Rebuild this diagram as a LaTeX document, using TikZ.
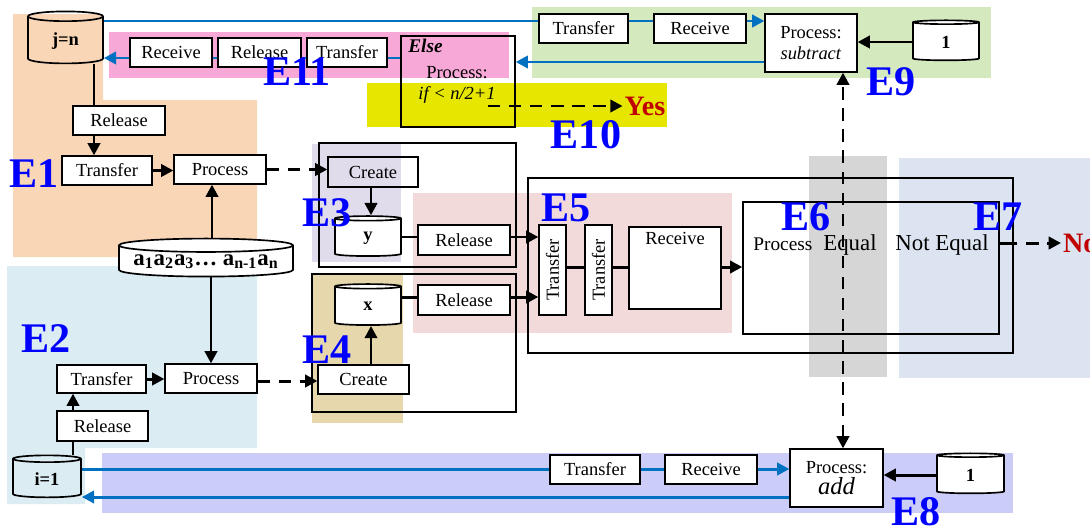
\documentclass[tikz,border=0pt]{standalone}
\usepackage{fontspec}
\setmainfont{Liberation Serif}
\usetikzlibrary{shapes.geometric,arrows.meta}

\definecolor{bgEone}{RGB}{249,214,182}
\definecolor{bgEtwo}{RGB}{219,236,242}
\definecolor{bgEthree}{RGB}{225,220,235}
\definecolor{bgEfour}{RGB}{230,215,172}
\definecolor{bgEfive}{RGB}{242,218,218}
\definecolor{bgEsix}{RGB}{214,214,214}
\definecolor{bgEseven}{RGB}{219,228,240}
\definecolor{bgEeight}{RGB}{204,204,248}
\definecolor{bgEnine}{RGB}{212,234,190}
\definecolor{bgEten}{RGB}{230,230,0}
\definecolor{bgEeleven}{RGB}{248,168,214}
\definecolor{lineblue}{RGB}{0,112,192}
\definecolor{eblue}{RGB}{0,0,255}
\definecolor{ansred}{RGB}{192,0,0}

\begin{document}
\begin{tikzpicture}[x=0.02cm,y=-0.02cm, >={Triangle[length=7pt,width=7pt]},
  blk/.style={draw, fill=white, inner sep=0pt, line width=0.7pt, font=\fontsize{10.5}{12}\selectfont},
  drum/.style={cylinder, shape border rotate=90, draw, fill=white, line width=0.95pt, inner sep=1pt, font=\bfseries\fontsize{10.5}{12}\selectfont},
  frm/.style={draw, line width=1.1pt, inner sep=0pt},
  con/.style={line width=1.7pt},
  arr/.style={con, ->},
  dsh/.style={arr, dash pattern=on 7pt off 5pt},
  bl/.style={line width=1.7pt, draw=lineblue},
  blarr/.style={bl, ->},
  elab/.style={text=eblue, font=\bfseries\fontsize{24}{24}\selectfont, inner sep=0pt},
  ans/.style={text=ansred, font=\bfseries\fontsize{16}{16}\selectfont, inner sep=1pt}]

\useasboundingbox (0,0) rectangle (1090,525);

% shaded groups
\fill[bgEone] (13,14) -- (103,14) -- (103,100) -- (257,100) -- (257,257) -- (13,257) -- cycle;
\fill[bgEtwo] (7,266) -- (257,266) -- (257,448) -- (85,448) -- (85,504) -- (7,504) -- cycle;
\fill[bgEthree] (312,144) rectangle (401,262);
\fill[bgEfour] (312,273) rectangle (403,423);
\fill[bgEfive] (413,193) rectangle (732,333);
\fill[bgEsix] (809,156) rectangle (887,377);
\fill[bgEseven] (899,158) rectangle (1090,378);
\fill[bgEeight] (102,453) rectangle (1013,513);
\fill[bgEnine] (532,7) rectangle (991,78);
\fill[bgEten] (367,83) rectangle (667,127);
\fill[bgEeleven] (109,32) rectangle (509,78);

% frames
\node[frm, minimum width=9.7cm, minimum height=3.5cm] (outer) at (770.5,265.5) {};
\node[frm, minimum width=3.94cm, minimum height=2.48cm] (frmY) at (417.5,205) {};
\node[frm, minimum width=4.08cm, minimum height=2.76cm] (frmX) at (414,343) {};
\node[frm, line width=0.8pt, minimum width=5.12cm, minimum height=2.64cm] (cmp) at (871,268) {};
\node[frm, line width=0.8pt, minimum width=2.28cm, minimum height=1.82cm] (elseP) at (458,81.5) {};

% E11 and E9
\node[blk, minimum width=1.64cm, minimum height=0.58cm] (rcvE) at (171,52.5) {Receive};
\node[blk, minimum width=1.66cm, minimum height=0.58cm] (relE) at (259.5,52.5) {Release};
\node[blk, minimum width=1.6cm, minimum height=0.58cm] (trfE) at (347,52.5) {Transfer};
\node[blk, minimum width=1.78cm, minimum height=0.58cm] (trfN) at (583.5,28.5) {Transfer};
\node[blk, minimum width=1.84cm, minimum height=0.58cm] (rcvN) at (700,28.5) {Receive};
\node[blk, minimum width=1.84cm, minimum height=1.16cm, align=center] (subP) at (811,43) {Process:\\\textit{subtract}};
\node[drum, minimum width=1.32cm, minimum height=0.8cm, aspect=0.3] (oneN) at (946,42) {1};
\node[font=\bfseries\itshape\fontsize{11}{12}\selectfont, anchor=west, inner sep=0pt] (elseTxt) at (408,46) {Else};
\node[font=\fontsize{10.5}{12}\selectfont, inner sep=0pt] (elseProc) at (457,73) {Process:};
\node[font=\itshape\fontsize{10.5}{12}\selectfont, inner sep=0pt] (elseCond) at (457,95) {if < n/2+1};
\node[ans] (yesTxt) at (645,106) {Yes};

% E1
\node[drum, fill=none, minimum width=1.5cm, minimum height=1.04cm, aspect=0.32] (jn) at (65.5,41) {j=n};
\node[blk, minimum width=1.84cm, minimum height=0.58cm] (relA) at (119,120.5) {Release};
\node[blk, minimum width=1.8cm, minimum height=0.58cm] (trfA) at (107,170.5) {Transfer};
\node[blk, minimum width=1.84cm, minimum height=0.58cm] (proA) at (220,169.5) {Process};
\node[drum, minimum width=3.48cm, minimum height=0.76cm, aspect=0.09, font=\bfseries\fontsize{13}{14}\selectfont] (seq) at (206,262)
  {a\textsubscript{1}a\textsubscript{2}a\textsubscript{3}\dots\ a\textsubscript{n-1}a\textsubscript{n}};

% E2
\node[blk, minimum width=1.78cm, minimum height=0.56cm] (trfB) at (101.5,379) {Transfer};
\node[blk, minimum width=1.84cm, minimum height=0.58cm] (proB) at (211,378.5) {Process};
\node[blk, minimum width=1.82cm, minimum height=0.6cm] (relB) at (102.5,426) {Release};
\node[drum, fill=none, minimum width=1.36cm, minimum height=0.84cm, aspect=0.24] (ione) at (47,479) {i=1};

% E3 and E4
\node[blk, fill=none, minimum width=1.8cm, minimum height=0.6cm] (creY) at (373,172) {Create};
\node[drum, minimum width=1.32cm, minimum height=0.8cm, aspect=0.36] (cylY) at (368,238) {y};
\node[blk, minimum width=1.84cm, minimum height=0.6cm] (relY) at (464,240) {Release};
\node[drum, minimum width=1.32cm, minimum height=0.82cm, aspect=0.36] (cylX) at (368,306.5) {x};
\node[blk, minimum width=1.84cm, minimum height=0.6cm] (relX) at (464,300) {Release};
\node[blk, minimum width=1.82cm, minimum height=0.58cm] (creX) at (363.5,379.5) {Create};

% E5 to E7
\node[blk, minimum width=0.54cm, minimum height=1.8cm] (trfVa) at (552.5,270) {\rotatebox{90}{Transfer}};
\node[blk, minimum width=0.54cm, minimum height=1.8cm] (trfVb) at (598.5,270) {\rotatebox{90}{Transfer}};
\node[blk, minimum width=1.84cm, minimum height=1.64cm] (rcvV) at (675,268) {};
\node[font=\fontsize{10.5}{12}\selectfont, anchor=north, inner sep=3pt] (rcvVTxt) at (rcvV.north) {Receive};
\node[font=\fontsize{11}{12}\selectfont, anchor=base west, inner sep=0pt] (cmpProc) at (753,250) {Process};
\node[font=\fontsize{13}{14}\selectfont, anchor=base west, inner sep=0pt] (cmpEq) at (823,250) {Equal};
\node[font=\fontsize{13}{14}\selectfont, anchor=base west, inner sep=0pt] (cmpNeq) at (895,250) {Not Equal};
\node[ans, anchor=west] (noTxt) at (1061,243) {No};

% E8
\node[blk, minimum width=1.8cm, minimum height=0.58cm] (trfS) at (595,469.5) {Transfer};
\node[blk, minimum width=1.84cm, minimum height=0.58cm] (rcvS) at (711,469.5) {Receive};
\node[blk, minimum width=1.86cm, minimum height=1.16cm, align=center] (addP) at (836.5,478) {Process:\\{\itshape\fontsize{14}{14}\selectfont add}};
\node[drum, minimum width=1.34cm, minimum height=0.8cm, aspect=0.3] (oneS) at (970.5,475) {1};

% blue message lines
\draw[bl] (jn.east |- 0,21) -- (trfN.west |- 0,21);
\draw[bl] (trfN.east |- 0,21) -- (rcvN.west |- 0,21);
\draw[blarr] (rcvN.east |- 0,21) -- (subP.west |- 0,21);
\draw[blarr] (subP.west |- 0,62) -- (elseP.east |- 0,62);
\draw[bl] (elseP.west |- 0,58) -- (trfE.east |- 0,58);
\draw[bl] (trfE.west |- 0,58) -- (relE.east |- 0,58);
\draw[bl] (relE.west |- 0,58) -- (rcvE.east |- 0,58);
\draw[blarr] (rcvE.west |- 0,58) -- (jn.east |- 0,58);
\draw[bl] (ione.east |- 0,469) -- (trfS.west |- 0,469);
\draw[bl] (trfS.east |- 0,469) -- (rcvS.west |- 0,469);
\draw[blarr] (rcvS.east |- 0,469) -- (addP.west |- 0,469);
\draw[blarr] (addP.west |- 0,497) -- (ione.east |- 0,497);

% black flow
\draw[con] (94,0 |- jn.south) -- (94,0 |- relA.north);
\draw[arr] (94,0 |- relA.south) -- (94,0 |- trfA.north);
\draw[arr] (trfA.east) -- (trfA.east -| proA.west);
\draw[dsh] (proA.east) -- (proA.east -| creY.west);
\draw[arr] (212,0 |- seq.north) -- (212,0 |- proA.south);
\draw[arr] (211,0 |- seq.south) -- (211,0 |- proB.north);
\draw[con] (73,0 |- ione.north) -- (73,0 |- relB.south);
\draw[arr] (73,0 |- relB.north) -- (73,0 |- trfB.south);
\draw[arr] (trfB.east) -- (trfB.east -| proB.west);
\draw[dsh] (proB.east |- 0,381) -- (creX.west |- 0,381);
\draw[arr] (371,0 |- creY.south) -- (371,0 |- cylY.north);
\draw[arr] (371,0 |- creX.north) -- (371,0 |- cylX.south);
\draw[con] (cylY.east |- 0,237) -- (relY.west |- 0,237);
\draw[arr] (relY.east |- 0,237) -- (trfVa.west |- 0,237);
\draw[con] (cylX.east |- 0,297) -- (relX.west |- 0,297);
\draw[arr] (relX.east |- 0,297) -- (trfVa.west |- 0,297);
\draw[con] (trfVa.east |- 0,267) -- (trfVb.west |- 0,267);
\draw[con] (trfVb.east |- 0,267) -- (rcvV.west |- 0,267);
\draw[arr] (rcvV.east |- 0,267) -- (cmp.west |- 0,267);
\draw[con] (cmp.east |- 0,243) -- (outer.east |- 0,243);
\draw[dsh, dash phase=5pt] (outer.east |- 0,243) -- (noTxt.west);
\draw[arr] (oneN.west) -- (oneN.west -| subP.east);
\draw[arr] (oneS.west) -- (oneS.west -| addP.east);
\coordinate (yesStart) at (488,106);
\draw[dsh] (yesStart) -- (yesTxt.west);
\draw[con, <->, dash pattern=on 7pt off 5pt] (843,0 |- addP.north) -- (843,0 |- subP.south);

% group labels
\node[elab] (lE1) at (34,174) {E1};
\node[elab] (lE2) at (46,339) {E2};
\node[elab] (lE3) at (327,213) {E3};
\node[elab] (lE4) at (327,350) {E4};
\node[elab] (lE5) at (566,208) {E5};
\node[elab] (lE6) at (806,217) {E6};
\node[elab] (lE7) at (998,217) {E7};
\node[elab] (lE8) at (916,512) {E8};
\node[elab] (lE9) at (891,82) {E9};
\node[elab] (lE10) at (586,135) {E10};
\node[elab] (lE11) at (297,72) {E11};
\end{tikzpicture}
\end{document}
